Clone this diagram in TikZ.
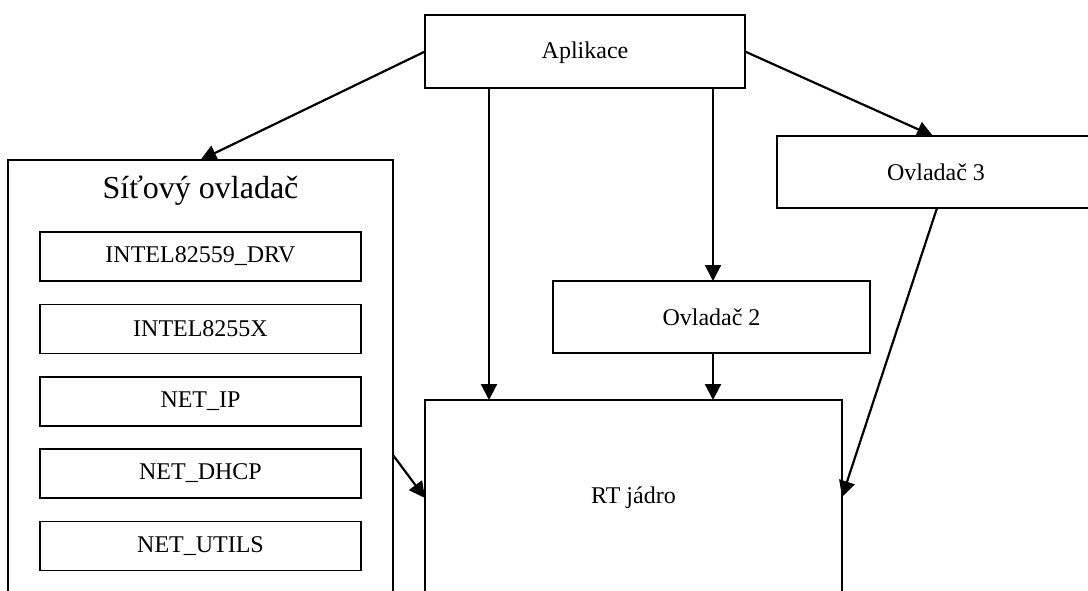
\documentclass[tikz,border=0pt]{standalone}
\usepackage{fontspec}
\setmainfont{Liberation Serif}
\usetikzlibrary{arrows.meta,calc}

\tikzset{
  block/.style={draw, line width=2pt, fill=white, inner sep=0pt, outer sep=0pt,
                font=\fontsize{24}{28}\selectfont},
  module/.style={block, line width=1.7pt, minimum width=321pt, minimum height=49pt},
  label/.style={inner sep=0pt, font=\fontsize{24}{28}\selectfont},
  link/.style={line width=2.2pt, -{Triangle[length=16pt,width=16pt]}}
}

\begin{document}
\begin{tikzpicture}[x=1pt, y=-1pt]
  \useasboundingbox (0,0) rectangle (1088,591);
  \clip (0,0) rectangle (1088,591);

  % application on top
  \node[block, minimum width=320pt, minimum height=73pt, text depth=3pt] (apl) at (585,51.5) {Aplikace};

  % network driver with its modules (runs past the lower edge)
  \node[block, minimum width=385pt, minimum height=460pt] (sit) at (200.5,390) {};
  \node[inner sep=0pt, font=\fontsize{32}{36}\selectfont] (sittitle) at (200.5,191) {Síťový ovladač};
  \node[module] (m1) at (200.5,256.5) {INTEL82559\_DRV};
  \node[module] (m2) at (200.5,329)   {INTEL8255X};
  \node[module] (m3) at (200.5,401.5) {NET\_IP};
  \node[module] (m4) at (200.5,473.5) {NET\_DHCP};
  \node[module] (m5) at (200.5,546)   {NET\_UTILS};

  % further drivers
  \node[block, minimum width=318pt, minimum height=72pt] (ov3) at (936,172) {Ovladač 3};
  \node[block, minimum width=317pt, minimum height=72pt] (ov2) at (711.5,317) {Ovladač 2};

  % real-time kernel (runs past the lower edge)
  \node[block, minimum width=417pt, minimum height=220pt] (rt) at (633.5,510) {};
  \node[label] (rttext) at (633.5,498) {RT jádro};

  % connectors
  \draw[link] (apl.west) -- (sit.north);
  \draw[link] (apl.east) -- ($(ov3.north)+(-3,0)$);

  \coordinate (a1) at ($(apl.south west)+(64,0)$);
  \draw[link] (a1) -- (a1 |- rt.north);

  \coordinate (a2) at ($(apl.south east)+(-32,0)$);
  \draw[link] (a2) -- (a2 |- ov2.north);
  \draw[link] (ov2.south -| a2) -- (rt.north -| a2);

  \draw[link] ($(ov3.south)+(1,0)$) -- ($(rt.north east)+(0,97)$);
  \draw[link] ($(sit.north east)+(0,295)$) -- ($(rt.north west)+(0,98)$);
\end{tikzpicture}
\end{document}
